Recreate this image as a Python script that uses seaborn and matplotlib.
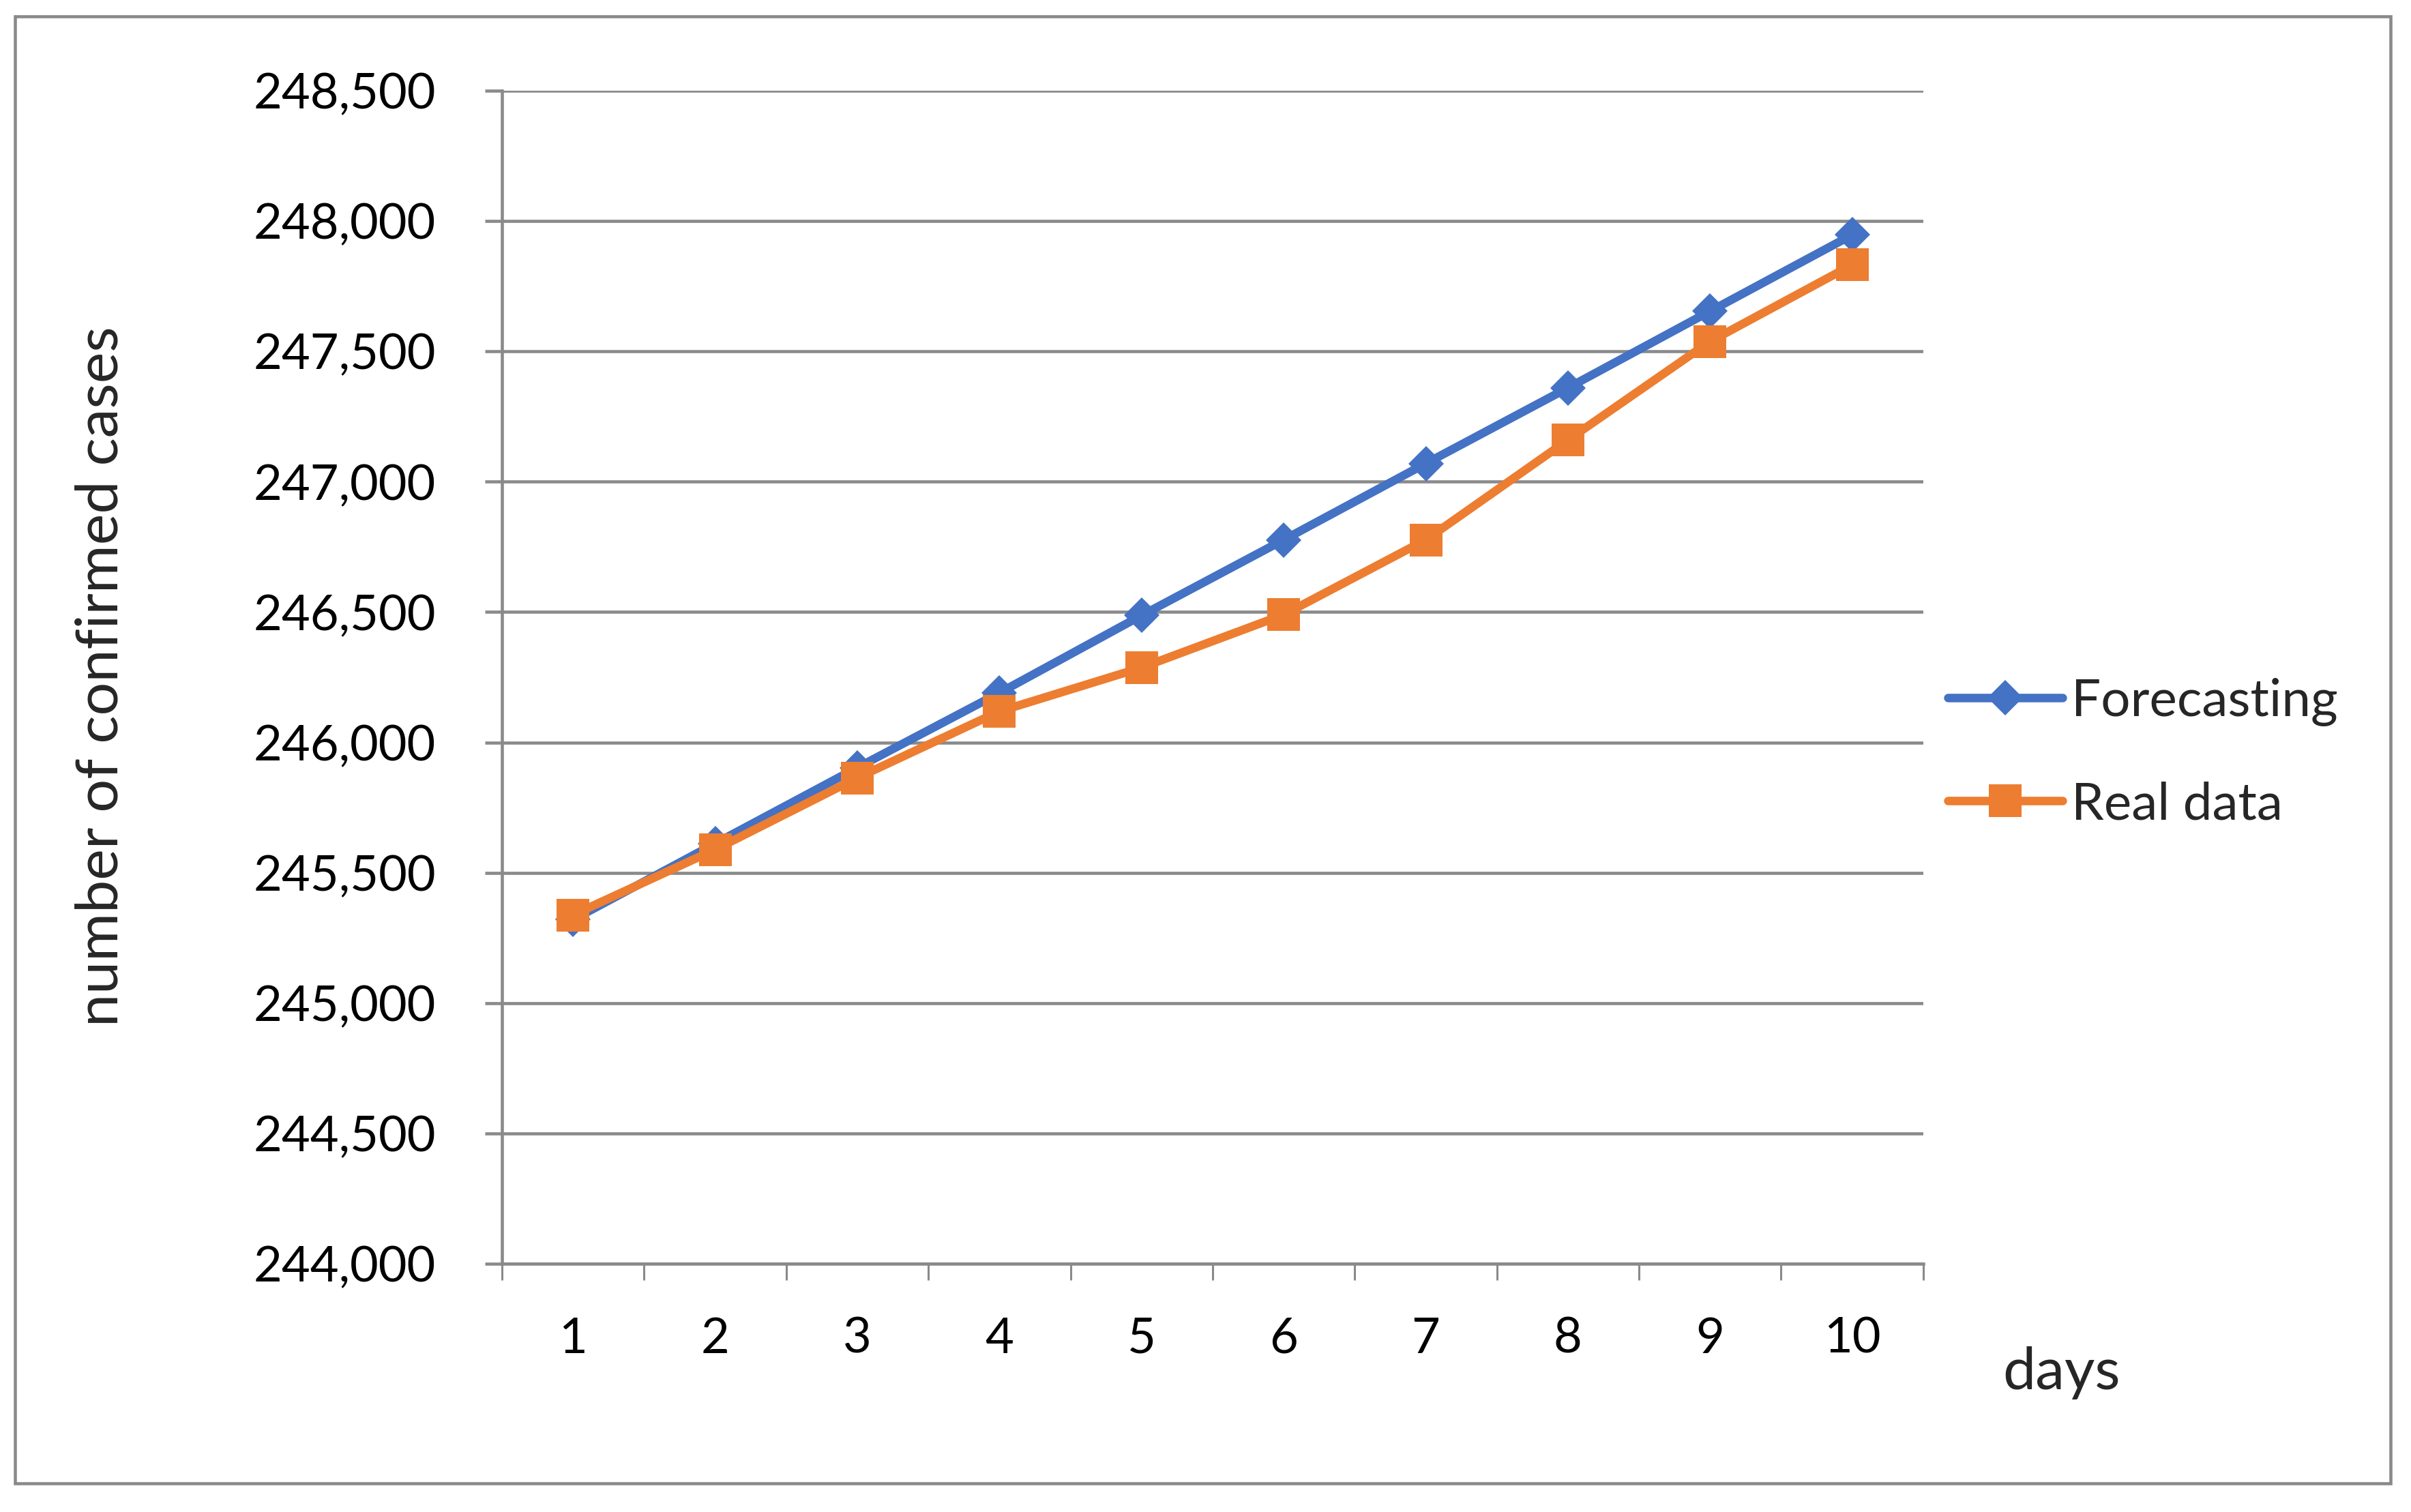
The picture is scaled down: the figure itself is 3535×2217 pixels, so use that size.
import pandas as pd
import seaborn as sns
import matplotlib.pyplot as plt
from matplotlib.patches import Rectangle
from matplotlib.ticker import FuncFormatter, FixedLocator

# Data
days = [1, 2, 3, 4, 5, 6, 7, 8, 9, 10]
forecasting = [245320, 245612, 245903, 246190, 246487, 246777, 247070, 247360, 247654, 247947]
real_data = [245338, 245589, 245864, 246119, 246287, 246490, 246777, 247160, 247538, 247832]
y_ticks = list(range(244000, 248501, 500))

df = pd.DataFrame({"day": days, "Forecasting": forecasting, "Real data": real_data})

sns.set_style("white")
plt.rcParams["font.family"] = ["Lato", "DejaVu Sans"]

grey = "#8a8a8a"
fs = 52

fig = plt.figure(figsize=(35.35, 22.17), dpi=100)
ax = fig.add_axes([0.2082, 0.1642, 0.5895, 0.7758])

sns.lineplot(data=df, x="day", y="Forecasting", ax=ax, color="#4472C4", lw=9,
             marker="D", markersize=26, markeredgewidth=0, label="Forecasting", zorder=3)
sns.lineplot(data=df, x="day", y="Real data", ax=ax, color="#ED7D31", lw=9,
             marker="s", markersize=34, markeredgewidth=0, label="Real data", zorder=4)

ax.set_xlim(0.5, 10.5)
ax.set_ylim(244000, 248500)
ax.set_yticks(y_ticks)
ax.yaxis.set_major_formatter(FuncFormatter(lambda v, _: f"{int(v):,}"))
ax.set_xticks(days)
ax.xaxis.set_minor_locator(FixedLocator([d + 0.5 for d in [0] + days]))

ax.yaxis.grid(True, color=grey, lw=3.3)
ax.xaxis.grid(False)
for s in ["top", "right"]:
    ax.spines[s].set_visible(False)
for s in ["left", "bottom"]:
    ax.spines[s].set_color(grey)
    ax.spines[s].set_linewidth(3.3)

ax.tick_params(axis="y", which="major", length=18, width=3.3, color=grey,
               pad=52, labelsize=fs, labelcolor="black", left=True)
ax.tick_params(axis="x", which="major", length=0, pad=56, labelsize=fs, labelcolor="black")
ax.tick_params(axis="x", which="minor", length=17, width=2.2, color=grey, bottom=True)

ax.set_xlabel("")
ax.set_ylabel("")
fig.text(0.042, 0.5525, "number of confirmed cases", rotation=90, fontsize=62,
         ha="center", va="center")
fig.text(0.855, 0.092, "days", fontsize=62, ha="center", va="center")

ax.legend(loc="center left", bbox_to_anchor=(0.797, 0.502), bbox_transform=fig.transFigure,
          frameon=False, fontsize=55, handlelength=2.2, handletextpad=0.17,
          labelspacing=1.05, borderpad=0, markerscale=1.0)

fig.add_artist(Rectangle((22 / 3535, 1 - 2175 / 2217), (3505 - 22) / 3535, (2175 - 24) / 2217,
                         transform=fig.transFigure, fill=False, edgecolor=grey, lw=3.3))

fig.savefig("out.png", dpi=100)
